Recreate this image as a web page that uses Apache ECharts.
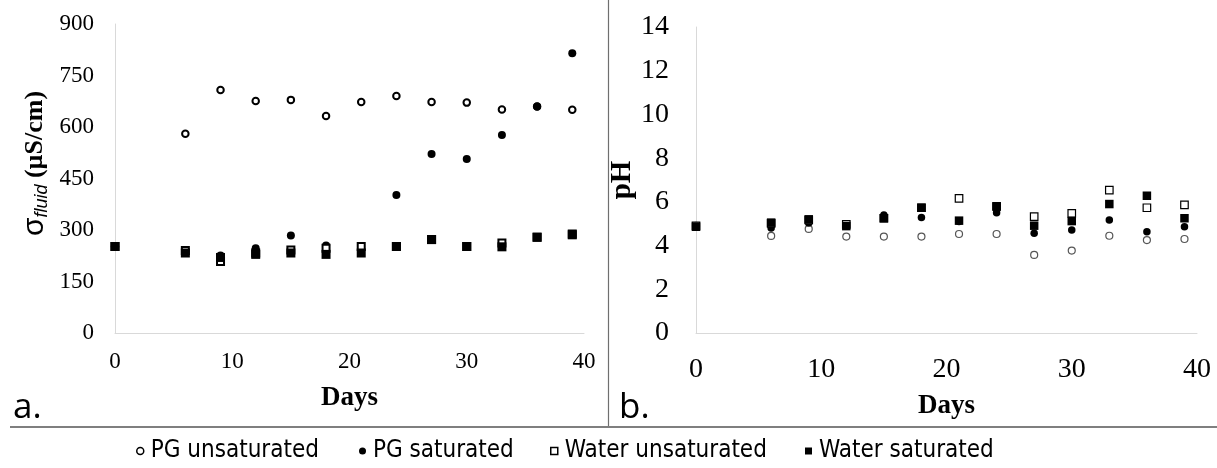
<!DOCTYPE html>
<html><head><meta charset="utf-8">
<script src="https://cdn.jsdelivr.net/npm/echarts@6/dist/echarts.min.js"></script>
<style>html,body{margin:0;padding:0;background:#fff}#c{width:1217px;height:468px}</style>
</head><body><div id="c"></div>
<script>
// ---- data ----
const days = [0, 6, 9, 12, 15, 18, 21, 24, 27, 30, 33, 36, 39];
const seriesNames = ['PG unsaturated', 'PG saturated', 'Water unsaturated', 'Water saturated'];
// panel a: conductivity (µS/cm)
const condPGUnsat    = [252, 580, 708, 676, 679, 632, 673, 690, 673, 671, 651, 660, 650];
const condPGSat      = [252, 240, 226, 247, 284, 255, 245, 402, 521, 507, 577, 660, 815];
const condWaterUnsat = [252, 240, 208, 233, 242, 247, 252, 252, 272, 252, 262, 279, 288];
const condWaterSat   = [252, 233, 220, 229, 233, 229, 233, 252, 272, 252, 251, 279, 286];
// panel b: pH
const phPGUnsat    = [4.90, 4.44, 4.76, 4.41, 4.41, 4.41, 4.53, 4.53, 3.57, 3.77, 4.45, 4.25, 4.30];
const phPGSat      = [4.90, 4.80, 5.03, 4.90, 5.40, 5.28, 5.10, 5.50, 4.56, 4.71, 5.17, 4.63, 4.86];
const phWaterUnsat = [4.90, 5.02, 5.17, 4.97, 5.25, 5.73, 6.16, 5.80, 5.32, 5.47, 6.54, 5.73, 5.86];
const phWaterSat   = [4.86, 5.05, 5.20, 4.89, 5.25, 5.73, 5.14, 5.78, 4.91, 5.12, 5.90, 6.28, 5.25];
const condTicks = [0, 900, 150];
const phTicks = [0, 14, 2];
const dayTicks = [0, 40, 10];

// ---- chart ----
const serif = '"Liberation Serif","Times New Roman",serif';
const sans = '"DejaVu Sans Condensed","DejaVu Sans",sans-serif';
const chart = echarts.init(document.getElementById('c'), null, {renderer: 'canvas'});
const pairs = v => days.map((d, i) => [d, v[i]]);
const axisLine = {show: true, lineStyle: {color: '#d9d9d9', width: 1}};

const styleA = [
  {symbol: 'circle', symbolSize: 6.5, itemStyle: {color: '#fff', borderColor: '#000', borderWidth: 2, opacity: 1}},
  {symbol: 'circle', symbolSize: 8, itemStyle: {color: '#000', opacity: 1}},
  {symbol: 'rect', symbolSize: 7, itemStyle: {color: '#fff', borderColor: '#000', borderWidth: 2, opacity: 1}},
  {symbol: 'rect', symbolSize: 9, itemStyle: {color: '#000', opacity: 1}}
];
const styleB = [
  {symbol: 'circle', symbolSize: 7, itemStyle: {color: '#fff', borderColor: '#555', borderWidth: 1.2, opacity: 1}},
  {symbol: 'circle', symbolSize: 7.5, itemStyle: {color: '#000', opacity: 1}},
  {symbol: 'rect', symbolSize: 7.5, itemStyle: {color: '#fff', borderColor: '#000', borderWidth: 1.2, opacity: 1}},
  {symbol: 'rect', symbolSize: 8.5, itemStyle: {color: '#000', opacity: 1}}
];
const dataA = [condPGUnsat, condPGSat, condWaterUnsat, condWaterSat];
const dataB = [phPGUnsat, phPGSat, phWaterUnsat, phWaterSat];
const series = [];
seriesNames.forEach((n, i) => series.push(Object.assign({type: 'scatter', name: n, xAxisIndex: 0, yAxisIndex: 0, data: pairs(dataA[i])}, styleA[i])));
seriesNames.forEach((n, i) => series.push(Object.assign({type: 'scatter', name: n, xAxisIndex: 1, yAxisIndex: 1, data: pairs(dataB[i])}, styleB[i])));

const legendIcons = [
  {icon: 'circle', itemStyle: {color: '#fff', borderColor: '#000', borderWidth: 1.5, opacity: 1}},
  {icon: 'circle', itemStyle: {color: '#000', borderWidth: 0, opacity: 1}},
  {icon: 'rect', itemStyle: {color: '#fff', borderColor: '#000', borderWidth: 1.5, opacity: 1}},
  {icon: 'rect', itemStyle: {color: '#000', borderWidth: 0, opacity: 1}}
];
const legendLeft = [136, 359, 550, 805];
const legends = seriesNames.map((n, i) => ({
  left: legendLeft[i], top: 439, padding: 0, itemWidth: 7, itemHeight: 7, itemGap: 0,
  textStyle: {fontFamily: sans, fontSize: 24, color: '#000', padding: [0, 0, 0, 2]},
  data: [Object.assign({name: n}, legendIcons[i])]
}));

const xAx = (idx, fs, margin, gap) => ({
  type: 'value', gridIndex: idx, min: dayTicks[0], max: dayTicks[1], interval: dayTicks[2],
  axisLine: axisLine, axisTick: {show: false}, splitLine: {show: false},
  axisLabel: {fontFamily: serif, fontSize: fs, color: '#000', margin: margin},
  name: 'Days', nameLocation: 'middle', nameGap: gap,
  nameTextStyle: {fontFamily: serif, fontWeight: 'bold', fontSize: 27, color: '#000'}
});

chart.setOption({
  animation: false,
  backgroundColor: '#fff',
  legend: legends,
  grid: [
    {left: 115, top: 24, width: 469, height: 309},
    {left: 696, top: 27, width: 501, height: 306}
  ],
  xAxis: [xAx(0, 23, 17, 52), xAx(1, 28, 23, 60)],
  yAxis: [
    {type: 'value', gridIndex: 0, min: condTicks[0], max: condTicks[1], interval: condTicks[2],
     axisLine: axisLine, axisTick: {show: false}, splitLine: {show: false},
     axisLabel: {fontFamily: serif, fontSize: 23, color: '#000', margin: 21},
     name: '{s|σ}{f|fluid}{b| (µS/cm)}', nameLocation: 'middle', nameGap: 64, nameRotate: 90,
     nameTextStyle: {padding: [0, 0, 0, 30], rich: {
       s: {fontFamily: '"Liberation Sans",sans-serif', fontSize: 30, color: '#000', verticalAlign: 'middle', lineHeight: 32},
       f: {fontFamily: '"Liberation Sans",sans-serif', fontStyle: 'italic', fontSize: 18, color: '#000', verticalAlign: 'bottom', lineHeight: 18},
       b: {fontFamily: serif, fontWeight: 'bold', fontSize: 26, color: '#000', verticalAlign: 'middle', lineHeight: 32}
     }}},
    {type: 'value', gridIndex: 1, min: phTicks[0], max: phTicks[1], interval: phTicks[2],
     axisLine: axisLine, axisTick: {show: false}, splitLine: {show: false},
     axisLabel: {fontFamily: serif, fontSize: 28, color: '#000', margin: 27},
     name: 'pH', nameLocation: 'middle', nameGap: 50, nameRotate: 90,
     nameTextStyle: {fontFamily: serif, fontWeight: 'bold', fontSize: 29, color: '#000'}}
  ],
  series: series,
  graphic: [
    {type: 'line', silent: true, shape: {x1: 608.5, y1: 0, x2: 608.5, y2: 427}, style: {stroke: '#6f6f6f', lineWidth: 1.2}},
    {type: 'line', silent: true, shape: {x1: 10, y1: 427, x2: 1217, y2: 427}, style: {stroke: '#7f7f7f', lineWidth: 2}},
    {type: 'text', silent: true, x: 13, y: 408, style: {text: 'a.', fontFamily: '"Open Sans",sans-serif', fontSize: 35, fill: '#000', verticalAlign: 'middle'}},
    {type: 'text', silent: true, x: 619, y: 408, style: {text: 'b.', fontFamily: '"Open Sans",sans-serif', fontSize: 35, fill: '#000', verticalAlign: 'middle'}}
  ]
});
</script></body></html>
